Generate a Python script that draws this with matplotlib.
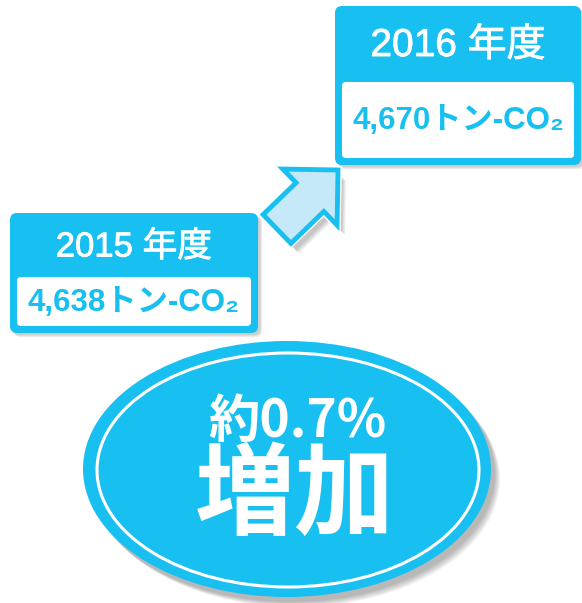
import matplotlib.pyplot as plt
from matplotlib.patches import FancyBboxPatch, Ellipse, FancyArrow
import matplotlib.patheffects as pe

# data
years = ['2015', '2016']
emissions = [4638, 4670]          # トン-CO2
change_pct = 0.7
change_word = '増加'

BLUE = '#17C0F0'
LIGHT = '#C6E9F9'
fonts = ['Liberation Sans', 'Noto Sans CJK JP', 'DejaVu Sans']

fig = plt.figure(figsize=(5.82, 6.03), dpi=100)
ax = fig.add_axes([0, 0, 1, 1])
ax.set_xlim(0, 582)
ax.set_ylim(603, 0)
ax.axis('off')

# box layout: (x, y, w, h) outer, inner white inset, title size
boxes = [
    dict(x=10, y=213, w=248, h=120, inner_top=64, title_size=25),
    dict(x=335, y=6, w=246, h=159, inner_top=76, title_size=28),
]


def shadow(patch_fn, dx, dy, n=5):
    for k in range(n):
        p = patch_fn(dx + k * 0.8, dy + k * 0.8)
        p.set_facecolor('black')
        p.set_edgecolor('none')
        p.set_alpha(0.05)
        ax.add_patch(p)


for yr, val, b in zip(years, emissions, boxes):
    x, y, w, h = b['x'], b['y'], b['w'], b['h']
    shadow(lambda dx, dy: FancyBboxPatch((x + dx, y + dy), w, h,
                                         boxstyle='round,pad=0,rounding_size=7'), 2, 2, 4)
    ax.add_patch(FancyBboxPatch((x, y), w, h, boxstyle='round,pad=0,rounding_size=7',
                                fc=BLUE, ec='none', zorder=2))
    ix, iy = x + 7, y + b['inner_top']
    iw, ih = w - 14, h - b['inner_top'] - 7
    ax.add_patch(FancyBboxPatch((ix, iy), iw, ih, boxstyle='round,pad=0,rounding_size=4',
                                fc='white', ec='none', zorder=3))
    ax.text(x + w / 2, y + b['inner_top'] / 2 + 2, f'{yr} 年度', color='white',
            fontsize=b['title_size'], ha='center', va='center', family=fonts, zorder=4,
            path_effects=[pe.Stroke(linewidth=0.6, foreground='white'), pe.Normal()])
    ax.text(ix + iw / 2, iy + ih / 2 + 1, f'{val:,}トン-CO₂', color=BLUE,
            fontsize=22.5, fontweight='bold', ha='center', va='center', family=fonts, zorder=4)

# arrow between the boxes
sx, sy = 277, 229
ex, ey = 338, 170
for k in range(4):
    ax.add_patch(FancyArrow(sx + 5 + k, sy + 7 + k, ex - sx, ey - sy, width=40,
                            head_width=78, head_length=39, length_includes_head=True,
                            fc='black', ec='none', alpha=0.06, zorder=1))
ax.add_patch(FancyArrow(sx, sy, ex - sx, ey - sy, width=40, head_width=78, head_length=39,
                        length_includes_head=True, fc=LIGHT, ec=BLUE, lw=3.5, zorder=5,
                        path_effects=[pe.Stroke(linewidth=5.5, foreground='white'), pe.Normal()]))

# ellipse
cx, cy, ew, eh = 287, 469, 408, 256
for k in range(6):
    ax.add_patch(Ellipse((cx + 4 + k, cy + 5 + k), ew, eh, fc='black', ec='none',
                         alpha=0.05, zorder=1))
ax.add_patch(Ellipse((cx, cy), ew, eh, fc=BLUE, ec='none', zorder=2))
ax.add_patch(Ellipse((cx + 1, cy + 1), ew - 26, eh - 22, fc='none', ec='white',
                     lw=2.2, zorder=3))

ax.text(297, 421, f'約{change_pct}%', color='white', fontsize=37, fontweight='bold',
        ha='center', va='center', family=['Noto Sans CJK JP'], zorder=4)
ax.text(295, 497, change_word, color='white', fontsize=72, fontweight='bold',
        ha='center', va='center', family=['Noto Sans CJK JP'], zorder=4)

fig.savefig('out.png', dpi=100)
